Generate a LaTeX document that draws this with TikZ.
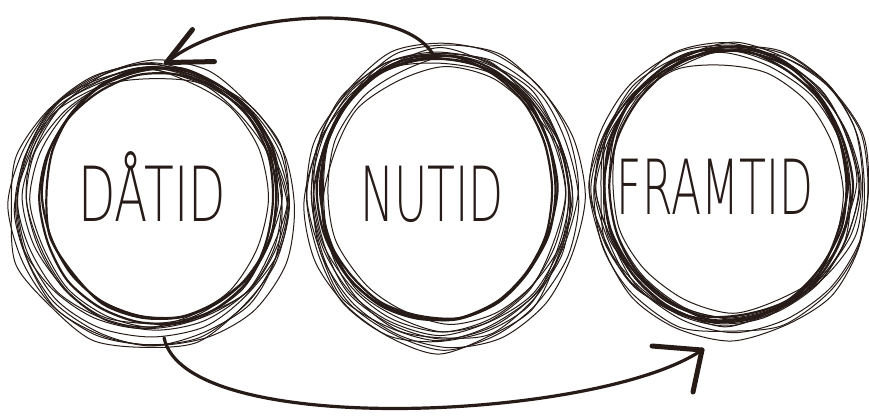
\documentclass[tikz,border=0pt]{standalone}
\usepackage{fontspec}
\newfontfamily\hand{DejaVu Sans ExtraLight}
\definecolor{ink}{RGB}{38,27,23}
\newcommand\scrib[8]{%
  \foreach \i in {1,...,11}{%
    \pgfmathsetmacro\sdx{rand*8}%
    \pgfmathsetmacro\sdy{rand*8}%
    \pgfmathsetmacro\sgr{1+0.075*rand}%
    \draw[thinloop] plot[smooth cycle, domain=0:337.5, samples=16, variable=\t]
      ({#1+\sdx+\sgr*(#3+4*rand)*cos(\t)},{#2+\sdy+\sgr*(#4+4*rand)*sin(\t)});
  }%
  \foreach \i in {1,2,3}{%
    \pgfmathsetmacro\sdx{rand*3}%
    \pgfmathsetmacro\sdy{rand*3}%
    \draw[thickloop] plot[smooth cycle, domain=0:340, samples=18, variable=\t]
      ({#5+\sdx+(#7+2*rand)*cos(\t)},{#6+\sdy+(#8+2*rand)*sin(\t)});
  }%
}
\begin{document}
\begin{tikzpicture}[x=1pt,y=-1pt,
  thinloop/.style={draw=ink, line width=1.0pt, line join=round},
  thickloop/.style={draw=ink, line width=2.2pt, line join=round},
  hole/.style={circle, minimum size=276pt, inner sep=0pt},
  word/.style={font=\hand\fontsize{76}{76}\selectfont, text=ink, inner sep=0pt, anchor=base},
  conn/.style={draw=ink, line width=3.2pt, line cap=round},
  tipline/.style={draw=ink, line width=5pt, line cap=round}]
\fill[white] (0,0) rectangle (869,419);
\useasboundingbox (0,0) rectangle (869,419);
\pgfmathsetseed{4711}
% circles
\node[hole] (dat) at (152,200) {};
\node[hole] (nut) at (440,192) {};
\node[hole] (fram) at (728,187) {};
\scrib{150}{202}{131}{132}{160}{196}{117}{126}
\scrib{444}{197}{128}{142}{438}{190}{118}{132}
\scrib{728}{187}{132}{139}{728}{185}{121}{135}
% labels
\node[word] (tdat) at (152,222) {\scalebox{0.64}[1]{DÅTID}};
\node[word] (tnut) at (432,222) {\scalebox{0.6}[1]{NUTID}};
\node[word] (tfram) at (715,215) {\scalebox{0.58}[1]{FRAMTID}};
% top arrow: NUTID -> DÅTID
\coordinate (tipA) at (dat.84);
\draw[conn] (nut.93) .. controls (400,0) and (230,10) .. (tipA);
\draw[tipline] (tipA) -- ++(26,-33);
\draw[tipline] (tipA) -- ++(48,-1);
% bottom arrow: DÅTID -> FRAMTID
\coordinate (tipB) at (702,350);
\draw[conn] (dat.-85) .. controls (185,440) and (600,420) .. (tipB);
\draw[tipline] (tipB) -- ++(-50,-4);
\draw[tipline] (tipB) -- ++(-9,42);
\end{tikzpicture}
\end{document}
